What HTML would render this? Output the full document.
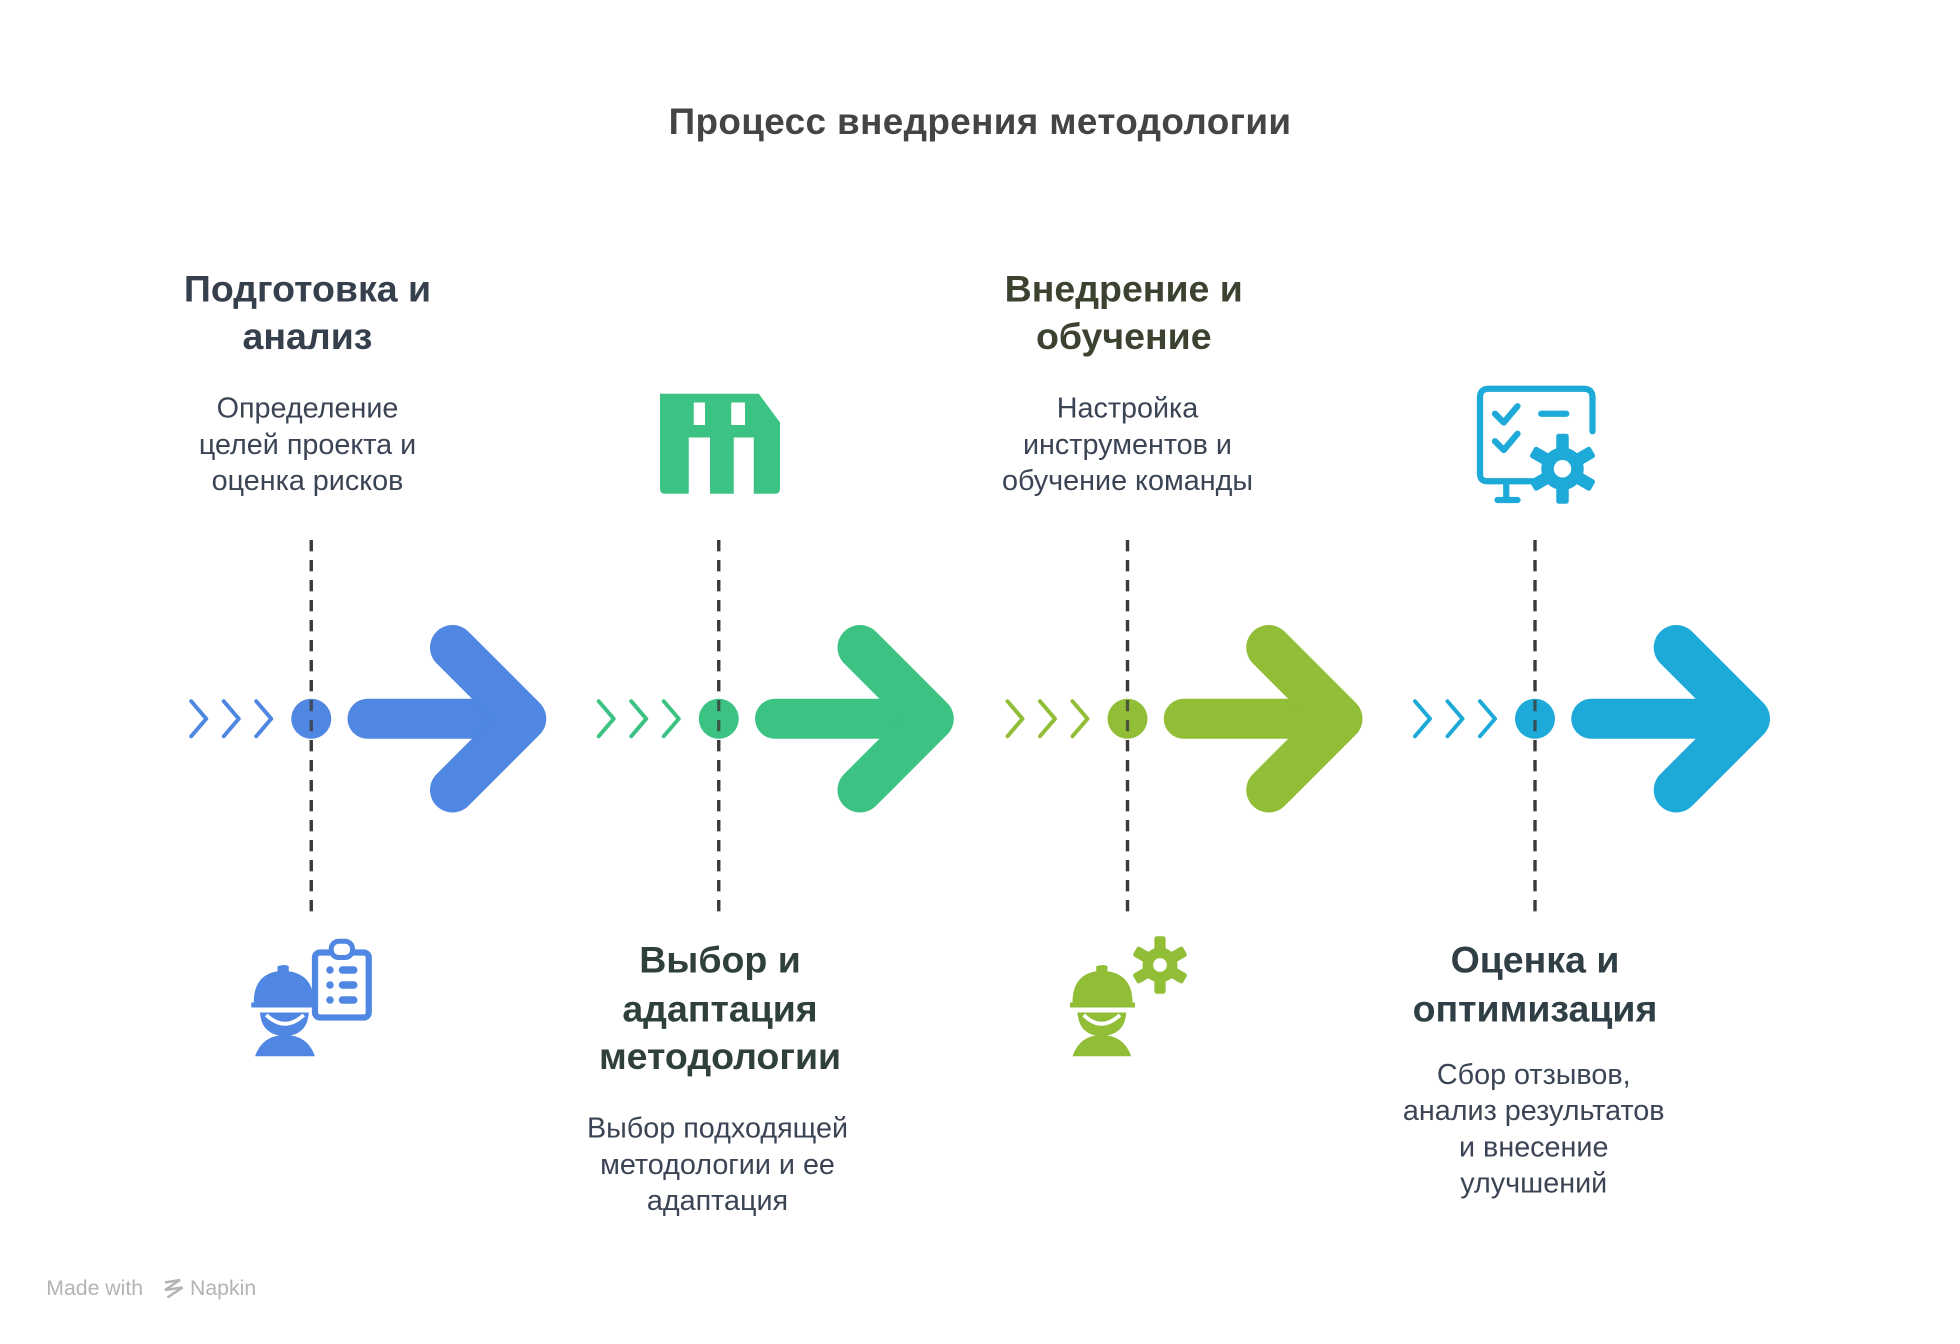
<!DOCTYPE html>
<html><head><meta charset="utf-8"><style>
html,body{margin:0;padding:0;background:#fff;width:1960px;height:1344px;overflow:hidden}
svg{display:block}
text{font-family:"Liberation Sans",sans-serif;text-anchor:middle}
.h{font-weight:bold;font-size:30px}
.d{font-size:23px;fill:#3b4454}
</style></head><body>
<svg width="1960" height="1344" viewBox="0 0 1568 1075.2">
<defs>
<g id="flow">
  <line x1="0" y1="432" x2="0" y2="732" stroke="#3a3a3a" stroke-width="2.6" stroke-dasharray="9,7"/>
  <polyline points="-96,561 -84,575 -96,589" fill="none" stroke-width="3.2" stroke-linecap="round" stroke-linejoin="round"/>
  <polyline points="-70,561 -58,575 -70,589" fill="none" stroke-width="3.2" stroke-linecap="round" stroke-linejoin="round"/>
  <polyline points="-44,561 -32,575 -44,589" fill="none" stroke-width="3.2" stroke-linecap="round" stroke-linejoin="round"/>
  <circle cx="0" cy="575" r="16" stroke="none"/>
  <line x1="0" y1="432" x2="0" y2="732" stroke="#3a3a3a" stroke-width="2.6" stroke-dasharray="9,7" opacity="0.8"/>
  <line x1="45" y1="575" x2="165" y2="575" stroke-width="32" stroke-linecap="round"/>
  <polyline points="113,518 170,575 113,632" fill="none" stroke-width="36" stroke-linecap="round" stroke-linejoin="round"/>
</g>
</defs>

<text x="784" y="107" class="h" style="font-size:29.5px;letter-spacing:0.3px" fill="#444">Процесс внедрения методологии</text>

<g transform="translate(249,0)" fill="#4f87e3" stroke="#4f87e3"><use href="#flow"/></g>
<g transform="translate(575,0)" fill="#3cc383" stroke="#3cc383"><use href="#flow"/></g>
<g transform="translate(902,0)" fill="#92bd37" stroke="#92bd37"><use href="#flow"/></g>
<g transform="translate(1228,0)" fill="#1eaad8" stroke="#1eaad8"><use href="#flow"/></g>

<text x="246" y="241" class="h" fill="#363f4c">Подготовка и</text>
<text x="246" y="279" class="h" fill="#363f4c">анализ</text>
<text x="246" y="334" class="d">Определение</text>
<text x="246" y="363" class="d">целей проекта и</text>
<text x="246" y="392" class="d">оценка рисков</text>

<text x="576" y="778" class="h" fill="#2f3f39">Выбор и</text>
<text x="576" y="817" class="h" fill="#2f3f39">адаптация</text>
<text x="576" y="855" class="h" fill="#2f3f39">методологии</text>
<text x="574" y="910" class="d">Выбор подходящей</text>
<text x="574" y="939" class="d">методологии и ее</text>
<text x="574" y="968" class="d">адаптация</text>

<text x="899" y="241" class="h" fill="#3b4230">Внедрение и</text>
<text x="899" y="279" class="h" fill="#3b4230">обучение</text>
<text x="902" y="334" class="d" fill="#3d4138">Настройка</text>
<text x="902" y="363" class="d" fill="#3d4138">инструментов и</text>
<text x="902" y="392" class="d" fill="#3d4138">обучение команды</text>

<text x="1228" y="778" class="h" fill="#2f3f45">Оценка и</text>
<text x="1228" y="817" class="h" fill="#2f3f45">оптимизация</text>
<text x="1227" y="867" class="d">Сбор отзывов,</text>
<text x="1227" y="896" class="d">анализ результатов</text>
<text x="1227" y="925" class="d">и внесение</text>
<text x="1227" y="954" class="d">улучшений</text>

<path d="M528,315 H607 L624,338 V391 Q624,395 620,395 H603 V350 H587 V395 H568 V350 H551 V395 H532 Q528,395 528,391 Z" fill="#3cc383"/>
<rect x="555" y="322" width="9" height="18" fill="#fff"/>
<rect x="585" y="322" width="11" height="18" fill="#fff"/>

<g fill="none" stroke="#1eaad8" stroke-width="5" stroke-linecap="round" stroke-linejoin="round">
<path d="M1232,385 H1190 Q1184,385 1184,379 V318 Q1184,311 1191,311 H1267 Q1274,311 1274,318 V345"/>
<path d="M1205,386 V398 M1198,400 H1214"/>
<polyline points="1196,331 1203,338 1214,325"/>
<polyline points="1196,353 1203,360 1214,347"/>
<line x1="1233" y1="331" x2="1253" y2="331"/>
</g>
<g transform="translate(1250,375)" fill="#1eaad8">
<circle r="17"/>
<g><rect x="-5" y="-28" width="10" height="14" rx="2"/><rect x="-5" y="14" width="10" height="14" rx="2"/>
<rect x="-5" y="-28" width="10" height="14" rx="2" transform="rotate(60)"/><rect x="-5" y="14" width="10" height="14" rx="2" transform="rotate(60)"/>
<rect x="-5" y="-28" width="10" height="14" rx="2" transform="rotate(120)"/><rect x="-5" y="14" width="10" height="14" rx="2" transform="rotate(120)"/></g>
<circle r="7" fill="#fff"/>
</g>

<g fill="#4f87e3">
<path d="M203,802 Q203,780 222,777 V773 Q228,771 231,773 V777 Q251,780 251,802 H255 V806 H201 V802 Z"/>
<path d="M208,810 H247 Q246,828 228,829 Q209,828 208,810 Z"/>
<path d="M204,845 Q210,828 228,828 Q246,828 252,845 Z"/>
</g>
<path d="M213,812 Q228,826 243,812" fill="none" stroke="#fff" stroke-width="3"/>
<rect x="252" y="762" width="43" height="52" rx="4" fill="#fff" stroke="#4f87e3" stroke-width="5"/>
<rect x="265" y="753" width="17" height="13" rx="6" fill="#fff" stroke="#4f87e3" stroke-width="4"/>
<g fill="#4f87e3"><circle cx="264" cy="776" r="3"/><circle cx="264" cy="788" r="3"/><circle cx="264" cy="800" r="3"/>
<rect x="271" y="773" width="15" height="6" rx="3"/><rect x="271" y="785" width="15" height="6" rx="3"/><rect x="271" y="797" width="15" height="6" rx="3"/></g>

<g fill="#92bd37">
<path d="M858,802 Q858,780 877,777 V773 Q883,771 886,773 V777 Q906,780 906,802 H908 V806 H856 V802 Z"/>
<path d="M862,810 H901 Q900,828 881,829 Q863,828 862,810 Z"/>
<path d="M858,845 Q864,828 881,828 Q899,828 905,845 Z"/>
</g>
<path d="M867,812 Q881,826 896,812" fill="none" stroke="#fff" stroke-width="3"/>
<g transform="translate(928,772)" fill="#92bd37">
<circle r="14"/>
<rect x="-4.5" y="-23" width="9" height="12" rx="2"/><rect x="-4.5" y="11" width="9" height="12" rx="2"/>
<rect x="-4.5" y="-23" width="9" height="12" rx="2" transform="rotate(60)"/><rect x="-4.5" y="11" width="9" height="12" rx="2" transform="rotate(60)"/>
<rect x="-4.5" y="-23" width="9" height="12" rx="2" transform="rotate(120)"/><rect x="-4.5" y="11" width="9" height="12" rx="2" transform="rotate(120)"/>
<circle r="5.5" fill="#fff"/>
</g>

<text x="37" y="1036" style="text-anchor:start;font-size:17px" fill="#b3b3b3">Made with</text>
<path d="M132,1026 L144,1024 L132,1032 L146,1030 L134,1038" fill="none" stroke="#b3b3b3" stroke-width="2"/>
<text x="152" y="1036" style="text-anchor:start;font-size:17px" fill="#b3b3b3">Napkin</text>
</svg>
</body></html>
